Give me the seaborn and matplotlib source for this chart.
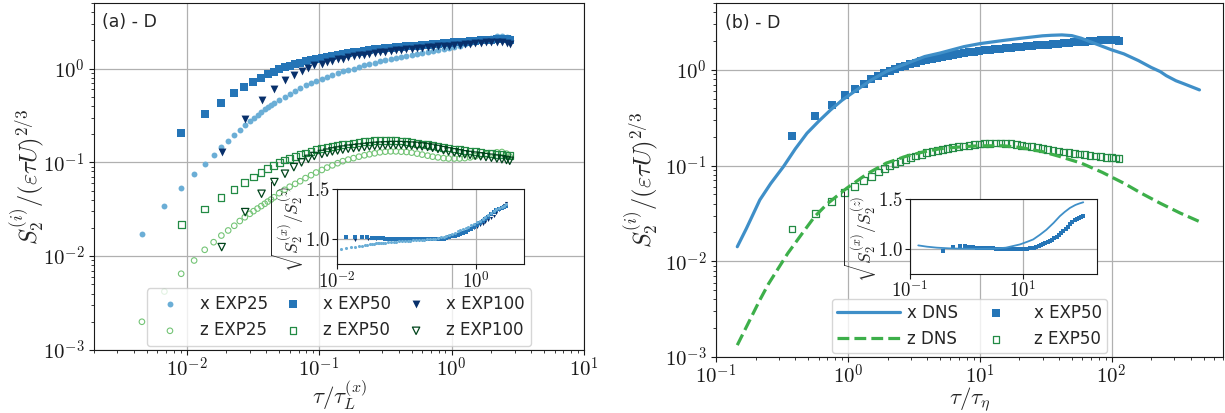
import numpy as np
import matplotlib
matplotlib.use("Agg")
import matplotlib.pyplot as plt
from matplotlib import ticker
import seaborn as sns

# ---------------- data ----------------
tau25_disc = [0.0046, 0.0068, 0.0091, 0.0114, 0.0137, 0.016, 0.0183, 0.0206, 0.0229, 0.0252,
              0.0275, 0.030, 0.032, 0.0343, 0.0366, 0.0389, 0.041, 0.0434, 0.0457]
tau50_disc = [0.0091, 0.0137, 0.0182, 0.0228, 0.0273, 0.0319, 0.0364, 0.041, 0.0455]
tau100_disc = [0.0184, 0.0277, 0.0368, 0.046, 0.0553, 0.0645, 0.0737, 0.083, 0.092]
tau_dense = [0.05, 0.055, 0.06, 0.066, 0.072, 0.079, 0.087, 0.095, 0.105, 0.115, 0.126, 0.138,
             0.151, 0.166, 0.182, 0.2, 0.22, 0.24, 0.263, 0.288, 0.316, 0.347, 0.38, 0.417,
             0.457, 0.5, 0.55, 0.6, 0.66, 0.72, 0.79, 0.87, 0.95, 1.05, 1.15, 1.26, 1.38,
             1.51, 1.66, 1.82, 2.0, 2.2, 2.4, 2.6, 2.75]
tau_dense100 = tau_dense[8:]

x25_disc = [0.0174, 0.034, 0.0527, 0.0745, 0.0968, 0.121, 0.146, 0.168, 0.194, 0.22, 0.248,
            0.276, 0.30, 0.32, 0.345, 0.37, 0.39, 0.41, 0.43]
x25_dense = [0.46, 0.50, 0.54, 0.58, 0.62, 0.66, 0.70, 0.74, 0.78, 0.82, 0.86, 0.90, 0.94, 0.97,
             1.00, 1.04, 1.08, 1.12, 1.16, 1.20, 1.24, 1.27, 1.31, 1.34, 1.37, 1.40, 1.44, 1.48,
             1.52, 1.55, 1.59, 1.63, 1.67, 1.71, 1.76, 1.81, 1.87, 1.93, 2.00, 2.07, 2.14, 2.20,
             2.22, 2.18, 2.10]
z25_disc = [0.0020, 0.0042, 0.0065, 0.0090, 0.0117, 0.0141, 0.0166, 0.0188, 0.0211, 0.0237,
            0.0260, 0.0283, 0.0302, 0.0322, 0.0342, 0.0362, 0.0382, 0.0402, 0.0425]
z25_dense = [0.047, 0.051, 0.055, 0.059, 0.063, 0.068, 0.073, 0.078, 0.083, 0.088, 0.093, 0.098,
             0.103, 0.107, 0.111, 0.115, 0.119, 0.122, 0.125, 0.128, 0.130, 0.131, 0.131, 0.130,
             0.129, 0.127, 0.124, 0.121, 0.118, 0.115, 0.113, 0.111, 0.110, 0.110, 0.110, 0.111,
             0.113, 0.116, 0.119, 0.122, 0.125, 0.128, 0.129, 0.124, 0.115]
x50_disc = [0.206, 0.328, 0.43, 0.545, 0.637, 0.72, 0.795, 0.87, 0.93]
x50_dense = [0.98, 1.03, 1.07, 1.11, 1.15, 1.19, 1.23, 1.27, 1.31, 1.34, 1.37, 1.40, 1.43, 1.46,
             1.49, 1.52, 1.55, 1.57, 1.60, 1.62, 1.64, 1.66, 1.68, 1.70, 1.72, 1.74, 1.76, 1.78,
             1.80, 1.82, 1.84, 1.86, 1.88, 1.90, 1.92, 1.94, 1.96, 1.98, 2.00, 2.02, 2.04, 2.06,
             2.07, 2.05, 2.02]
z50_disc = [0.0218, 0.0318, 0.042, 0.0519, 0.0607, 0.0697, 0.0776, 0.0856, 0.0929]
z50_dense = [0.100, 0.106, 0.111, 0.116, 0.121, 0.126, 0.131, 0.136, 0.140, 0.144, 0.148, 0.151,
             0.154, 0.157, 0.160, 0.163, 0.166, 0.168, 0.170, 0.171, 0.172, 0.172, 0.171, 0.169,
             0.166, 0.163, 0.160, 0.157, 0.154, 0.151, 0.148, 0.145, 0.142, 0.139, 0.136, 0.134,
             0.132, 0.130, 0.128, 0.126, 0.124, 0.122, 0.121, 0.120, 0.119]
x100_disc = [0.129, 0.292, 0.459, 0.611, 0.75, 0.86, 0.95, 1.02, 1.08]
x100_dense = [1.13, 1.17, 1.21, 1.25, 1.28, 1.32, 1.35, 1.38, 1.41, 1.44, 1.47, 1.50, 1.52, 1.54,
              1.56, 1.58, 1.60, 1.62, 1.64, 1.66, 1.68, 1.70, 1.72, 1.74, 1.76, 1.78, 1.80, 1.82,
              1.84, 1.86, 1.88, 1.90, 1.92, 1.93, 1.92, 1.88, 1.83]
z100_disc = [0.0125, 0.0295, 0.0463, 0.0617, 0.0757, 0.089, 0.100, 0.109, 0.117]
z100_dense = [0.123, 0.127, 0.131, 0.134, 0.137, 0.140, 0.142, 0.144, 0.146, 0.148, 0.150, 0.151,
              0.152, 0.153, 0.153, 0.153, 0.152, 0.151, 0.150, 0.148, 0.146, 0.143, 0.139, 0.135,
              0.131, 0.128, 0.125, 0.122, 0.120, 0.118, 0.116, 0.114, 0.112, 0.110, 0.108, 0.106,
              0.104]

# inset ratios sqrt(S2x/S2z) (normalised)
r25_disc = [np.nan, np.nan, np.nan, 0.905, 0.910, 0.916, 0.922, 0.928, 0.934, 0.940, 0.944,
            0.948, 0.951, 0.954, 0.957, 0.959, 0.961, 0.962, 0.963]
r25_dense = [0.965, 0.967, 0.970, 0.972, 0.974, 0.976, 0.978, 0.980, 0.982, 0.984, 0.986, 0.988,
             0.990, 0.992, 0.994, 0.996, 0.998, 1.000, 1.005, 1.010, 1.017, 1.025, 1.035, 1.045,
             1.055, 1.065, 1.077, 1.090, 1.100, 1.110, 1.125, 1.140, 1.155, 1.170, 1.185, 1.200,
             1.220, 1.240, 1.260, 1.280, 1.300, 1.310, 1.320, 1.330, 1.350]
r50_disc = [0.977, 1.020, 1.025, 1.025, 1.020, 1.015, 1.010, 1.008, 1.006]
r50_dense = [1.005, 1.004, 1.003, 1.002, 1.002, 1.001, 1.001, 1.000, 1.000, 1.000, 1.000, 1.000,
             1.000, 1.000, 1.000, 1.000, 1.000, 1.000, 1.000, 1.001, 1.002, 1.005, 1.010, 1.018,
             1.026, 1.035, 1.045, 1.055, 1.065, 1.075, 1.090, 1.105, 1.120, 1.140, 1.160, 1.180,
             1.200, 1.220, 1.250, 1.270, 1.290, 1.300, 1.310, 1.320, 1.330]
r100_disc = [0.99, 1.0, 1.0, 1.0, 1.0, 1.0, 1.0, 1.0, 1.0]
r100_dense = [1.000, 1.000, 1.000, 1.000, 1.000, 1.000, 1.000, 1.000, 1.000, 1.000, 1.002, 1.005,
              1.010, 1.015, 1.020, 1.027, 1.035, 1.043, 1.050, 1.060, 1.070, 1.080, 1.090, 1.100,
              1.112, 1.125, 1.140, 1.155, 1.170, 1.190, 1.210, 1.230, 1.260, 1.290, 1.320, 1.340,
              1.360]

# panel (b): DNS
tau_xdns = [0.145, 0.17, 0.215, 0.26, 0.325, 0.4, 0.49, 0.6, 0.74, 0.9, 1.12, 1.5, 1.95, 2.5,
            3.83, 5.0, 7.6, 10, 15.1, 20, 29.9, 35, 42, 50, 59, 73, 100, 124, 160, 200, 234,
            260, 308, 350, 464]
x_dns = [0.0142, 0.022, 0.0438, 0.065, 0.0977, 0.15, 0.218, 0.29, 0.382, 0.48, 0.594, 0.78,
         0.96, 1.1, 1.38, 1.5, 1.75, 1.88, 2.03, 2.13, 2.27, 2.30, 2.32, 2.28, 2.14, 1.91, 1.62,
         1.47, 1.25, 1.06, 0.96, 0.87, 0.77, 0.72, 0.618]
tau_zdns = [0.145, 0.215, 0.25, 0.35, 0.45, 0.56, 0.7, 0.98, 1.4, 1.95, 2.8, 3.83, 5.0, 7.6, 10,
            15.1, 20, 29.9, 40, 59, 85, 124, 170, 234, 330, 464]
z_dns = [0.00133, 0.00394, 0.0058, 0.0121, 0.0195, 0.0293, 0.040, 0.058, 0.082, 0.106, 0.126,
         0.140, 0.150, 0.158, 0.161, 0.161, 0.155, 0.140, 0.125, 0.106, 0.085, 0.0654, 0.051,
         0.0404, 0.032, 0.026]
tau_rdns = [0.14, 0.2, 0.3, 0.5, 0.77, 1.5, 3.0, 5.0, 8.9, 12, 15.2, 20, 26, 35, 45, 55, 68, 85,
            100, 117]
r_dns = [1.033, 1.02, 1.01, 1.003, 1.0, 0.998, 1.0, 1.01, 1.043, 1.07, 1.093, 1.14, 1.19, 1.26,
         1.327, 1.37, 1.41, 1.44, 1.455, 1.467]
TAU_L_OVER_TAU_ETA = 41.4

# ---------------- assemble ----------------
tau25 = np.array(tau25_disc + tau_dense)
tau50 = np.array(tau50_disc + tau_dense)
tau100 = np.array(tau100_disc + tau_dense100)
x25 = np.array(x25_disc + x25_dense); z25 = np.array(z25_disc + z25_dense)
x50 = np.array(x50_disc + x50_dense); z50 = np.array(z50_disc + z50_dense)
x100 = np.array(x100_disc + x100_dense); z100 = np.array(z100_disc + z100_dense)
r25 = np.array(r25_disc + r25_dense); r50 = np.array(r50_disc + r50_dense)
r100 = np.array(r100_disc + r100_dense)

C_X25, C_X50, C_X100 = "#6baed6", "#2575b7", "#08306b"
C_Z25, C_Z50, C_Z100 = "#74c476", "#238b45", "#00441b"
C_XDNS, C_ZDNS = "#3f8fc8", "#3daf4a"

sns.set_style("ticks")
plt.rcParams["font.family"] = ["DejaVu Sans"]
plt.rcParams["mathtext.fontset"] = "cm"
plt.rcParams["axes.edgecolor"] = "0.1"
plt.rcParams["xtick.color"] = "0.1"
plt.rcParams["ytick.color"] = "0.1"
plt.rcParams["xtick.major.size"] = 3.5
plt.rcParams["ytick.major.size"] = 3.5
plt.rcParams["xtick.minor.size"] = 2.0
plt.rcParams["ytick.minor.size"] = 2.0

fig = plt.figure(figsize=(12.25, 4.13), dpi=100)
W, H = 1225.0, 413.0


def add_ax(x0, y0, x1, y1):
    return fig.add_axes([x0 / W, (H - y1) / H, (x1 - x0) / W, (y1 - y0) / H])


ax_a = add_ax(94, 3, 584, 350)
ax_b = add_ax(716, 3, 1223, 357)
in_a = add_ax(337, 189, 524, 264)
in_b = add_ax(910, 199, 1097, 273.5)

for ax in (ax_a, ax_b, in_a, in_b):
    ax.set_xscale("log")

logfmt = ticker.FuncFormatter(lambda v, p: r"$10^{%d}$" % int(round(np.log10(v))))


def scatter(ax, x, y, marker, s, color, label=None, open_=False, lw=0.9):
    sns.scatterplot(x=x, y=y, ax=ax, marker=marker, s=s, color=color,
                    edgecolor=color, linewidth=0 if not open_ else lw, label=label,
                    legend=False)
    pc = ax.collections[-1]
    if open_:
        pc.set_facecolor("none")
        pc.set_edgecolor(color)
        pc.set_linewidth(lw)
    return pc


# ---------------- panel (a) ----------------
ax_a.set_yscale("log")
h = []
h.append(scatter(ax_a, tau25, x25, "o", 18, C_X25, "x EXP25"))
h.append(scatter(ax_a, tau25, z25, "o", 16, C_Z25, "z EXP25", open_=True, lw=0.8))
h.append(scatter(ax_a, tau50, x50, "s", 26, C_X50, "x EXP50"))
h.append(scatter(ax_a, tau50, z50, "s", 24, C_Z50, "z EXP50", open_=True))
h.append(scatter(ax_a, tau100, x100, "v", 32, C_X100, "x EXP100"))
h.append(scatter(ax_a, tau100, z100, "v", 28, C_Z100, "z EXP100", open_=True))
ax_a.set_xlim(0.002, 10)
ax_a.set_ylim(1e-3, 5)
ax_a.legend(handles=h, ncol=3, loc="lower center", bbox_to_anchor=(0.5, 0.0),
            fontsize=12, columnspacing=0.5, borderaxespad=0.25, handletextpad=0.8)
ax_a.text(0.016, 0.97, "(a) - D", transform=ax_a.transAxes, ha="left", va="top", fontsize=12.5)
ax_a.set_xlabel(r"$\tau/\tau_L^{(x)}$", fontsize=16.5)
ax_a.xaxis.set_label_coords(0.5, -0.08)

# ---------------- panel (b) ----------------
ax_b.set_yscale("log")
sns.lineplot(x=tau_xdns, y=x_dns, ax=ax_b, color=C_XDNS, lw=2.3, sort=False, estimator=None,
             label="x DNS", legend=False)
sns.lineplot(x=tau_zdns, y=z_dns, ax=ax_b, color=C_ZDNS, lw=2.3, ls="--", sort=False,
             estimator=None, label="z DNS", legend=False)
hb = list(ax_b.get_lines())
tau50_b = tau50 * TAU_L_OVER_TAU_ETA
hb.append(scatter(ax_b, tau50_b, x50, "s", 26, C_X50, "x EXP50"))
hb.append(scatter(ax_b, tau50_b, z50, "s", 24, C_Z50, "z EXP50", open_=True))
ax_b.set_xlim(0.1, 700)
ax_b.set_ylim(1e-3, 5)
ax_b.legend(handles=hb, ncol=2, loc="lower center", bbox_to_anchor=(0.5, 0.0), fontsize=12,
            handlelength=3.8, handletextpad=0.4, columnspacing=0.4, borderpad=0.3,
            borderaxespad=0.25)
ax_b.text(0.018, 0.97, "(b) - D", transform=ax_b.transAxes, ha="left", va="top", fontsize=12.5)
ax_b.set_xlabel(r"$\tau/\tau_\eta$", fontsize=16.5)
ax_b.xaxis.set_label_coords(0.5, -0.083)

for ax, lx in ((ax_a, -0.096), (ax_b, -0.108)):
    ax.set_ylabel(r"$S_2^{(i)}/(\varepsilon\tau U)^{2/3}$", fontsize=17.5)
    ax.yaxis.set_label_coords(lx, 0.5)
    ax.xaxis.set_major_formatter(logfmt)
    ax.yaxis.set_major_formatter(logfmt)
    ax.xaxis.set_minor_formatter(ticker.NullFormatter())
    ax.yaxis.set_minor_formatter(ticker.NullFormatter())
    ax.tick_params(labelsize=15)
    ax.tick_params(axis="x", pad=1.5)
    ax.grid(True, which="major", color="#b0b0b0", lw=0.9)
    ax.set_axisbelow(True)

# ---------------- insets ----------------
scatter(in_a, tau100, r100, "v", 5, C_X100)
scatter(in_a, tau50, r50, "s", 5, C_X50)
scatter(in_a, tau25, r25, "o", 5, C_X25)
in_a.set_xlim(0.01, 5)
in_a.set_xticks([0.01, 1])

sns.lineplot(x=tau_rdns, y=r_dns, ax=in_b, color=C_XDNS, lw=1.3, sort=False, estimator=None,
             legend=False)
scatter(in_b, tau50_b, r50, "s", 9, C_X50)
in_b.set_xlim(0.1, 205)
in_b.set_xticks([0.1, 10])

for ax in (in_a, in_b):
    ax.set_ylim(0.75, 1.5)
    ax.set_yticks([1.0, 1.5])
    ax.yaxis.set_major_formatter(ticker.FuncFormatter(lambda v, p: r"$%.1f$" % v))
    ax.xaxis.set_major_formatter(logfmt)
    ax.xaxis.set_minor_locator(ticker.NullLocator())
    ax.tick_params(labelsize=13.5, pad=1.5)
    ax.grid(True, which="major", color="#b0b0b0", lw=0.9)
    ax.set_axisbelow(True)
    ax.set_ylabel(r"$\sqrt{S_2^{(x)}/S_2^{(z)}}$", fontsize=12.5)
    ax.yaxis.set_label_coords(-0.16, 0.5)
    ax.set_xlabel("")

fig.savefig("out.png", dpi=100)
